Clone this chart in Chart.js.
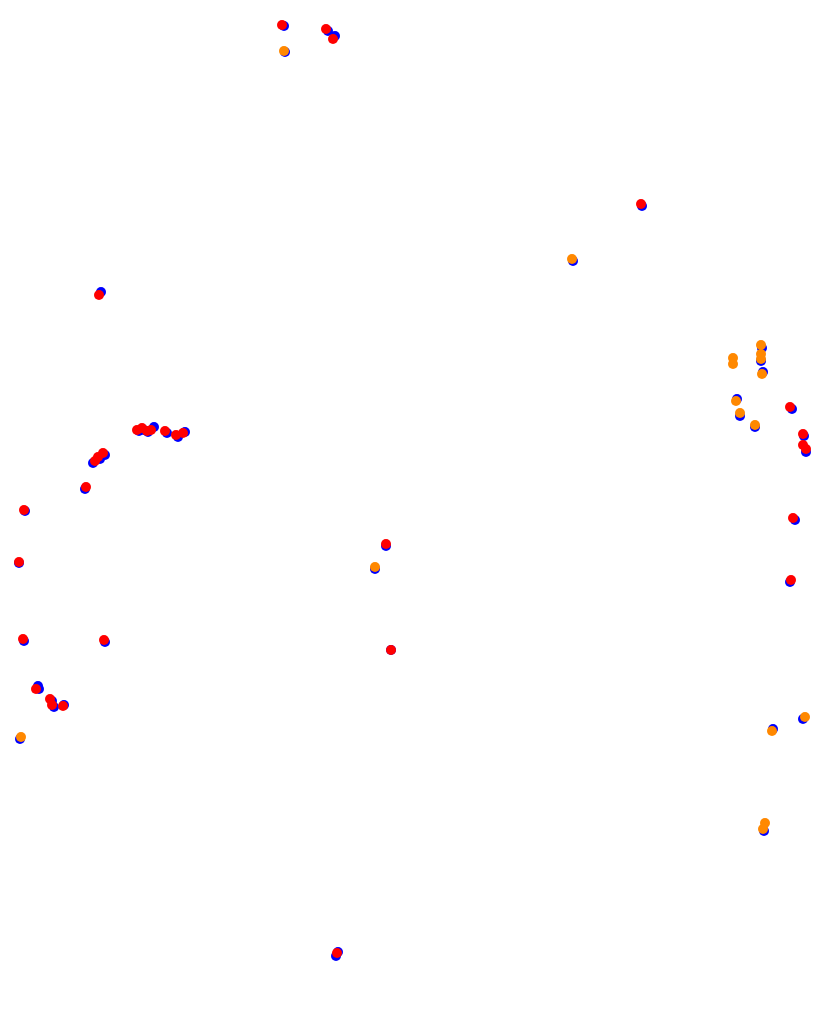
<html>
  <head>
    <title>Scatter</title>
    <script src="https://cdn.jsdelivr.net/npm/chart.js"></script>
    <style>
      body { margin: 0; background: #fff; }
      #plot { display: block; }
    </style>
  </head>
  <body>
    <canvas id="plot" width="828" height="1009"></canvas>
    <script>
      // values (x to the right, y downward)
      const redX = [282, 326, 333, 641, 99, 137, 142, 147, 151, 165, 176, 183,
                    103, 98, 95, 86, 24, 19, 23, 104, 36, 50, 52, 63,
                    790, 803, 803, 806, 793, 791, 386, 391, 337];
      const redY = [25, 29, 39, 204, 295, 430, 428, 431, 430, 431, 435, 433,
                    453, 457, 461, 487, 510, 562, 639, 640, 689, 699, 705, 706,
                    407, 434, 445, 449, 518, 580, 544, 650, 953];

      const orangeX = [284, 572, 21, 761, 733, 733, 761, 761, 762, 736, 740, 755,
                       805, 772, 765, 763, 375];
      const orangeY = [51, 259, 737, 345, 358, 364, 354, 359, 374, 401, 413, 425,
                       717, 731, 823, 829, 567];

      const blueX = [284, 328, 335, 285, 642, 573, 101, 139, 144, 148, 154, 167, 178, 185,
                     105, 100, 93, 85, 25, 19, 24, 105, 38, 39, 52, 54, 64, 20,
                     762, 761, 763, 737, 740, 755, 792, 804, 806, 795, 790,
                     803, 773, 764, 386, 375, 391, 336, 338];
      const blueY = [26, 31, 36, 52, 206, 261, 292, 431, 430, 432, 427, 433, 437, 432,
                     455, 459, 463, 489, 511, 563, 641, 642, 686, 689, 701, 707, 705, 739,
                     348, 361, 372, 399, 416, 427, 409, 436, 452, 520, 582,
                     719, 729, 831, 546, 569, 650, 956, 952];

      function toPoints(xs, ys) {
        return xs.map((x, i) => ({ x: x, y: ys[i] }));
      }

      const ctx = document.getElementById('plot').getContext('2d');
      const chart = new Chart(ctx, {
        type: 'scatter',
        data: {
          datasets: [
            { label: 'red', data: toPoints(redX, redY), backgroundColor: '#ff0000' },
            { label: 'orange', data: toPoints(orangeX, orangeY), backgroundColor: '#ff8800' },
            { label: 'blue', data: toPoints(blueX, blueY), backgroundColor: '#0000ff' }
          ]
        },
        options: {
          responsive: false,
          animation: false,
          clip: false,
          layout: { padding: 0, autoPadding: false },
          elements: { point: { radius: 5, borderWidth: 0, hoverRadius: 5 } },
          plugins: { legend: { display: false }, tooltip: { enabled: false } },
          scales: {
            x: { type: 'linear', min: 0, max: 828, display: false },
            y: { type: 'linear', min: 0, max: 1009, reverse: true, display: false }
          }
        }
      });
    </script>
  </body>
</html>
